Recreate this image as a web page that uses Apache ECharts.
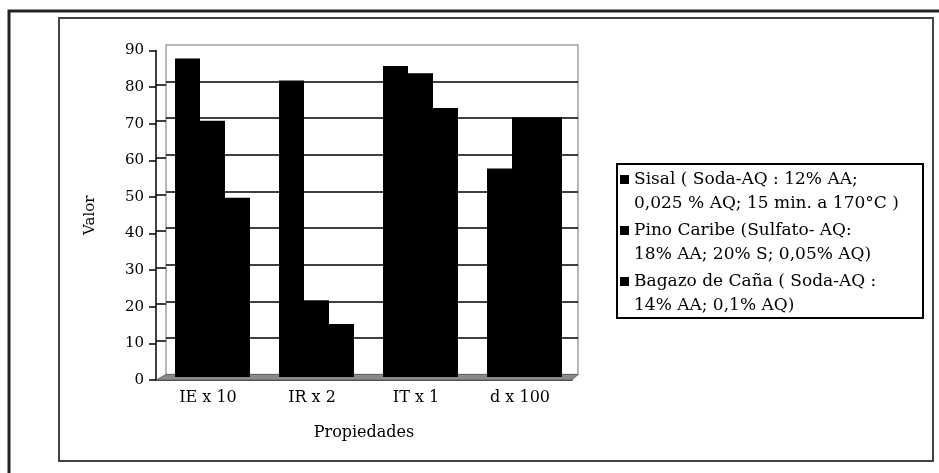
<!DOCTYPE html>
<html>
<head>
<meta charset="utf-8">
<script src="https://cdn.jsdelivr.net/npm/echarts@6/dist/echarts.min.js"></script>
<style>
  html, body { margin: 0; padding: 0; background: #fff; }
  #chart { width: 939px; height: 473px; }
</style>
</head>
<body>
<div id="chart"></div>
<script>
// Properties (scaled) measured for three pulps
const categories = ['IE x 10', 'IR x 2', 'IT x 1', 'd x 100'];
const sisal  = [87, 81, 85, 57];
const pino   = [70, 21, 83, 71];
const bagazo = [49, 14.5, 73.5, 71];
const seriesNames = [
  'Sisal ( Soda-AQ : 12% AA;\n0,025 % AQ; 15 min. a 170°C )',
  'Pino Caribe (Sulfato- AQ:\n18% AA; 20% S; 0,05% AQ)',
  'Bagazo de Caña ( Soda-AQ :\n14% AA; 0,1% AQ)'
];
const yMin = 0, yMax = 90, yStep = 10;

const FONT = 'DejaVu Serif';
const chart = echarts.init(document.getElementById('chart'), null, { renderer: 'canvas' });

const gridLine = { show: true, showMinLine: false, showMaxLine: false,
                   lineStyle: { color: '#000', width: 1.5 } };
const hiddenY = { type: 'value', min: yMin, max: yMax, interval: yStep, show: false };

const option = {
  animation: false,
  backgroundColor: '#fff',
  textStyle: { fontFamily: FONT, color: '#000' },
  grid: [
    // back wall of the 3-D plot box
    { left: 166, top: 45, width: 412, height: 329.5, show: true,
      borderColor: '#a0a0a0', borderWidth: 1.5, backgroundColor: 'transparent' },
    // front axes
    { left: 156, top: 50.6, width: 416, height: 329.4 },
    // columns
    { left: 160.5, top: 47.6, width: 416, height: 329.4 },
    // left side wall
    { left: 156, top: 48, width: 10, height: 329.4 }
  ],
  xAxis: [
    { gridIndex: 0, type: 'category', data: categories, show: false },
    { gridIndex: 1, type: 'category', data: categories,
      axisLine: { lineStyle: { color: '#000', width: 1.5 } },
      axisTick: { length: 6, lineStyle: { color: '#000', width: 1.5 } },
      axisLabel: { color: '#000', fontSize: 16, fontFamily: FONT, margin: 10 },
      name: 'Propiedades', nameLocation: 'middle', nameGap: 45,
      nameTextStyle: { color: '#000', fontSize: 16, fontFamily: FONT } },
    { gridIndex: 2, type: 'category', data: categories, show: false },
    { gridIndex: 3, type: 'category', data: categories, show: false }
  ],
  yAxis: [
    { gridIndex: 0, type: 'value', min: yMin, max: yMax, interval: yStep,
      axisLine: { show: false }, axisTick: { show: false }, axisLabel: { show: false },
      splitLine: gridLine },
    { gridIndex: 1, type: 'value', min: yMin, max: yMax, interval: yStep,
      axisLine: { show: true, lineStyle: { color: '#000', width: 1.5 } },
      axisTick: { show: true, length: 7, lineStyle: { color: '#000', width: 1.5 } },
      axisLabel: { color: '#000', fontSize: 15, fontFamily: FONT, margin: 12 },
      splitLine: { show: false },
      name: 'Valor', nameLocation: 'middle', nameGap: 58, nameRotate: 90,
      nameTextStyle: { color: '#000', fontSize: 15, fontFamily: FONT } },
    Object.assign({ gridIndex: 2 }, hiddenY),
    { gridIndex: 3, type: 'value', min: yMin, max: yMax, interval: yStep,
      axisLine: { show: false }, axisTick: { show: false }, axisLabel: { show: false },
      splitLine: gridLine }
  ],
  legend: {
    orient: 'vertical', left: 617, top: 164,
    data: seriesNames,
    icon: 'path://M0,0h0.05v0.05h-0.05z M0,7h9v9h-9z M0,47.95h0.05v0.05h-0.05z',
    itemWidth: 9, itemHeight: 48, itemGap: 3,
    padding: [4, 5, 0, 3],
    borderColor: '#000', borderWidth: 2,
    textStyle: { fontFamily: FONT, fontSize: 17, lineHeight: 24, color: '#000', width: 284 }
  },
  series: [sisal, pino, bagazo].map((vals, i) => ({
    name: seriesNames[i], type: 'bar', xAxisIndex: 2, yAxisIndex: 2,
    data: vals, barWidth: 25, barGap: '0%',
    itemStyle: { color: '#000' }
  })),
  graphic: [
    { type: 'rect', z: 0, shape: { x: 9, y: 11, width: 940, height: 470 },
      style: { fill: 'transparent', stroke: '#222', lineWidth: 3 } },
    { type: 'rect', z: 0, shape: { x: 59, y: 18, width: 874, height: 443 },
      style: { fill: 'transparent', stroke: '#444', lineWidth: 2 } },
    { type: 'polygon', z: 1,
      shape: { points: [[156, 380], [572, 380], [578, 374.5], [166, 374.5]] },
      style: { fill: '#8a8a8a', stroke: '#666', lineWidth: 1 } }
  ]
};
chart.setOption(option);
</script>
</body>
</html>
